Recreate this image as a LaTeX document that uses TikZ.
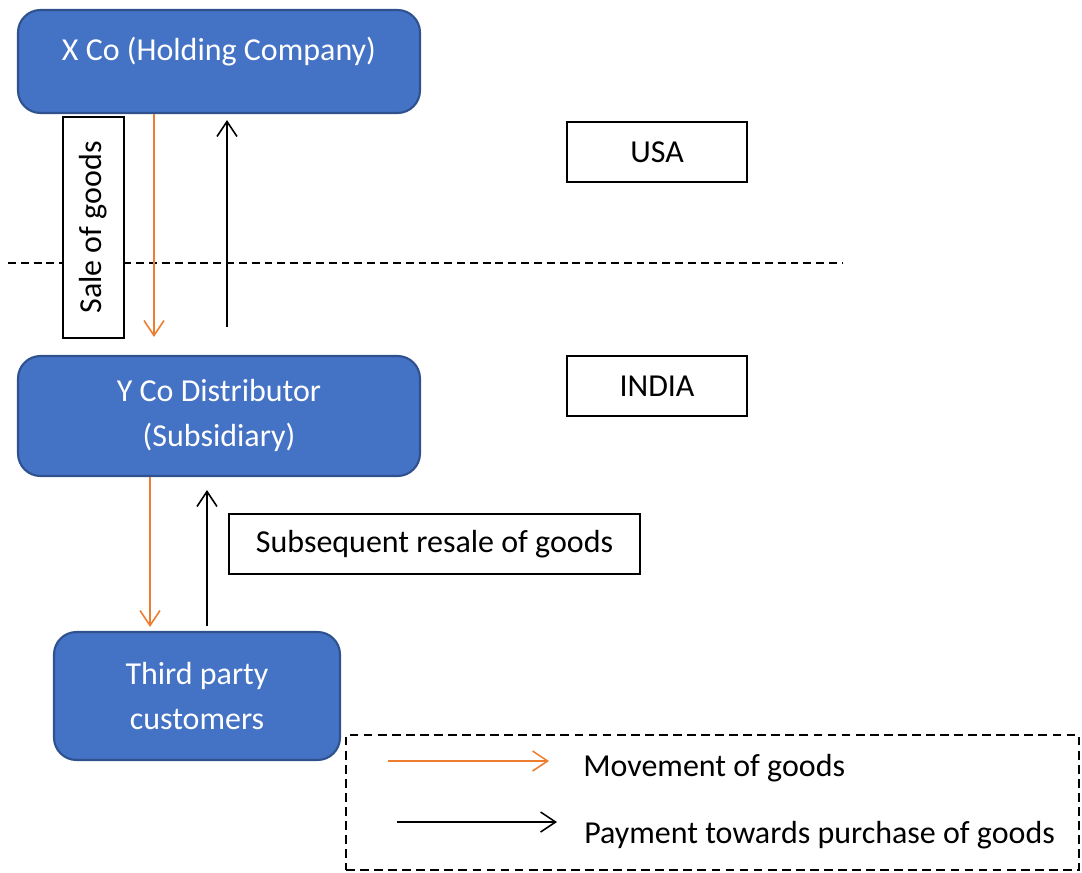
\documentclass[tikz,border=0pt]{standalone}
\usepackage{fontspec}
\setmainfont{Carlito}
\usetikzlibrary{arrows.meta,positioning}
\definecolor{boxblue}{HTML}{4472C4}
\definecolor{boxline}{HTML}{2F528F}
\definecolor{goodsorange}{HTML}{ED7D31}
\tikzset{
  company/.style={draw=boxline,line width=1.2pt,fill=boxblue,rounded corners=0.45cm,
    text=white,align=center,inner sep=0pt,font=\fontsize{18.2}{25.5}\selectfont},
  tag/.style={draw,line width=0.6pt,inner sep=0pt,font=\fontsize{18.2}{21}\selectfont},
  goods/.style={draw=goodsorange,line width=0.9pt,-{Straight Barb[length=3mm,width=4mm]}},
  payment/.style={draw=black,line width=0.9pt,-{Straight Barb[length=3mm,width=4mm]}},
}
\begin{document}
\begin{tikzpicture}
\useasboundingbox (0,0) rectangle (21.64,-17.46);
% companies
\node[company,minimum width=8.04cm,minimum height=2.06cm] (xco) at (4.38,-1.23) {};
\node[text=white,anchor=base,font=\fontsize{18.2}{21}\selectfont] (xcotext) at (4.38,-1.20) {X Co (Holding Company)};
\node[company,minimum width=8.04cm,minimum height=2.40cm,text depth=0.12cm] (yco) at (4.38,-8.32) {Y Co Distributor\\(Subsidiary)};
\node[company,minimum width=5.72cm,minimum height=2.56cm] (third) at (3.94,-13.92) {Third party\\customers};
% countries
\node[tag,minimum width=3.6cm,minimum height=1.2cm] (usa) at (13.14,-3.04) {USA};
\node[tag,minimum width=3.6cm,minimum height=1.2cm] (india) at (13.14,-7.72) {INDIA};
\coordinate (b1) at (0.16,-5.26);
\coordinate (b2) at (16.86,-5.26);
\draw[line width=1.4pt,dash pattern=on 4.5pt off 2.8pt] (b1) -- (b2);
% transactions
\node[tag,rotate=90,minimum width=4.42cm,minimum height=1.22cm,fill=white] (sale) at (1.87,-4.55) {Sale of goods};
\node[tag,minimum width=8.22cm,minimum height=1.2cm] (resale) at (8.69,-10.88) {Subsequent resale of goods};
\draw[goods] ([xshift=-1.3cm]xco.south) -- ([xshift=-1.3cm,yshift=0.36cm]yco.north);
\draw[payment] ([xshift=0.16cm,yshift=0.56cm]yco.north) -- ([xshift=0.16cm,yshift=-0.12cm]xco.south);
\draw[goods] ([xshift=-1.38cm]yco.south) -- ([xshift=-0.94cm,yshift=0.08cm]third.north);
\draw[payment] ([xshift=0.2cm,yshift=0.1cm]third.north) -- ([xshift=-0.24cm,yshift=-0.26cm]yco.south);
% legend
\node[draw,line width=1.2pt,dash pattern=on 5pt off 3pt,minimum width=14.66cm,minimum height=2.70cm] (legend) at (14.25,-16.05) {};
\coordinate (m1) at (7.76,-15.22);
\coordinate (m2) at (10.98,-15.22);
\coordinate (p1) at (7.94,-16.44);
\coordinate (p2) at (11.14,-16.44);
\draw[goods] (m1) -- (m2);
\draw[payment] (p1) -- (p2);
\node[anchor=base west,inner sep=0pt,font=\fontsize{18.2}{21}\selectfont] (movetext) at (11.66,-15.52) {Movement of goods};
\node[anchor=base west,inner sep=0pt,font=\fontsize{18.2}{21}\selectfont] (paytext) at (11.68,-16.86) {Payment towards purchase of goods};
\end{tikzpicture}
\end{document}
